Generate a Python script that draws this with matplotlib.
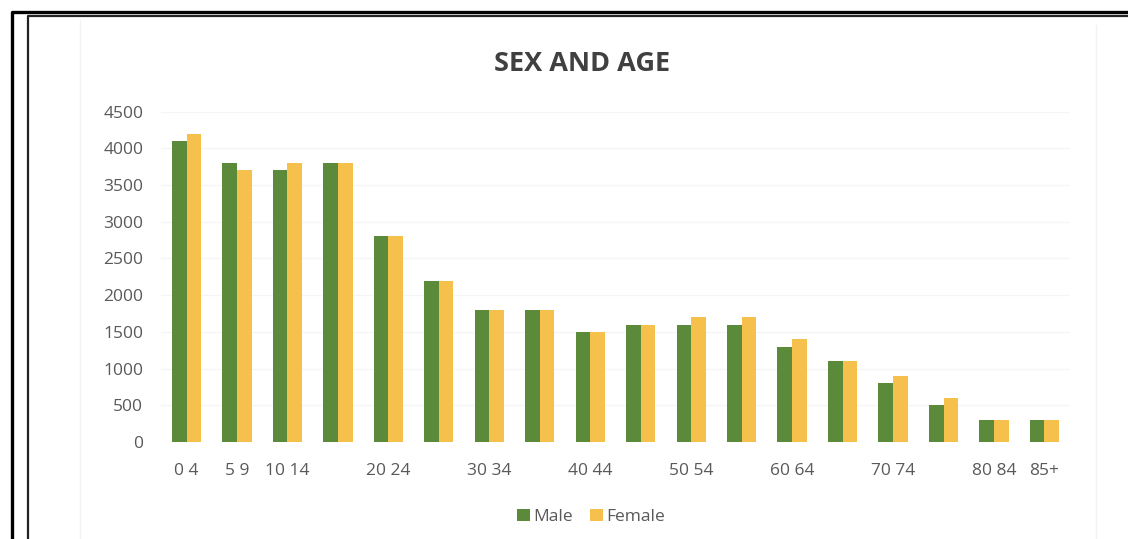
import numpy as np
import matplotlib
matplotlib.use("Agg")
import matplotlib.pyplot as plt
from matplotlib.lines import Line2D

plt.rcParams['font.family'] = ['Open Sans', 'DejaVu Sans']

# population by five-year age group
age_groups = ["0 4", "5 9", "10 14", "15 19", "20 24", "25 29", "30 34", "35 39",
              "40 44", "45 49", "50 54", "55 59", "60 64", "65 69", "70 74",
              "75 79", "80 84", "85+"]
male = [4100, 3800, 3700, 3800, 2800, 2200, 1800, 1800, 1500, 1600, 1600,
        1600, 1300, 1100, 800, 500, 300, 300]
female = [4200, 3700, 3800, 3800, 2800, 2200, 1800, 1800, 1500, 1600, 1700,
          1700, 1400, 1100, 900, 600, 300, 300]
# only every other label fits under the bars
shown_labels = ["0 4", "5 9", "10 14", "20 24", "30 34", "40 44", "50 54",
                "60 64", "70 74", "80 84", "85+"]
y_ticks = [0, 500, 1000, 1500, 2000, 2500, 3000, 3500, 4000, 4500]

green = "#5b8a3b"
gold = "#f6c04c"
txt = "#595959"

fig = plt.figure(figsize=(11.28, 5.39), dpi=100)
ax = fig.add_axes([0.143, 0.18, 0.8053, 0.6128])

x = np.arange(len(age_groups))
w = 0.29
ax.bar(x - w / 2, male, w, color=green, label="Male", zorder=2)
ax.bar(x + w / 2, female, w, color=gold, label="Female", zorder=2)

ax.set_xlim(-0.5, len(age_groups) - 0.5)
ax.set_ylim(0, 4500)
ax.set_yticks(y_ticks)
ax.set_yticklabels([str(v) for v in y_ticks])
ax.set_xticks(x)
ax.set_xticklabels([a if a in shown_labels else "" for a in age_groups])
ax.tick_params(axis="both", length=0, labelsize=12.5, colors=txt)
ax.tick_params(axis="x", pad=15)
ax.tick_params(axis="y", pad=13)
ax.yaxis.grid(True, color="#f5f5f5", linewidth=1, zorder=0)
for s in ax.spines.values():
    s.set_visible(False)

fig.text(0.516, 0.881, "SEX AND AGE", ha="center", va="center",
         fontsize=19.5, fontweight="bold", color="#404040")

fig.legend(loc="center", bbox_to_anchor=(0.524, 0.041), ncol=2, frameon=False,
           fontsize=12.5, labelcolor=txt, handlelength=0.75, handleheight=0.75,
           handletextpad=0.2, columnspacing=1.0)

# page frame: thick outer line and thinner inner line
W, H = 1128, 539
def fline(xs, ys, lw, color):
    fig.add_artist(Line2D([p / W for p in xs], [1 - p / H for p in ys],
                          linewidth=lw, color=color, transform=fig.transFigure))

fline([11.5, 11.5, W], [H, 12, 12], 2.4, "black")
fline([28, 28, W], [H, 15.5, 15.5], 1.6, "#222222")
# faint chart-area edges
fline([80, 80], [H, 20], 1, "#f2f2f2")
fline([1096, 1096], [H, 25], 1, "#f2f2f2")

fig.savefig("out.png", dpi=100)
